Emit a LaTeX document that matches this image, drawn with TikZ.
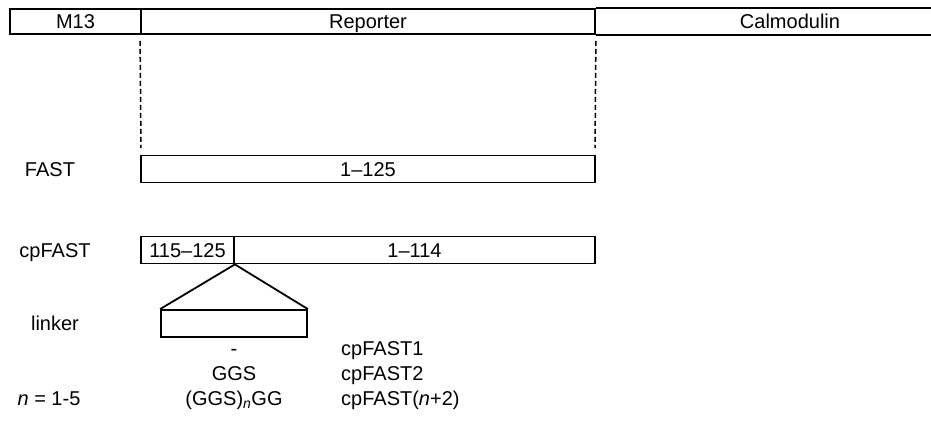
\documentclass[tikz,border=0pt]{standalone}
\usepackage{fontspec}
\setmainfont{Liberation Sans}
\usetikzlibrary{positioning}
\tikzset{
  seg/.style={draw, line width=1.8pt, minimum height=27pt},
  guide/.style={line width=1.5pt, dash pattern=on 5pt off 3pt},
}
\begin{document}
\begin{tikzpicture}[x=1pt,y=-1pt,
    every node/.style={font=\fontsize{20}{23}\selectfont, inner sep=0pt,
      text height=14.3pt, text depth=0pt}]
  \useasboundingbox (0,0) rectangle (931,421);
  % domain bar
  \node[seg, minimum width=131pt, minimum height=25pt] (m13) at (75.5,21.5) {M13};
  \node[seg, minimum width=454pt, minimum height=25pt] (rep) at (368,21.5) {Reporter};
  \node (cal) at (790,21.5) {Calmodulin};
  \coordinate (calE) at (931,21.5);
  \draw[line width=1.8pt] (rep.north east) -- (rep.north east -| calE)
    (rep.south east) -- (rep.south east -| calE);
  \coordinate (dashA) at (141,148);
  \coordinate (dashB) at (595,148);
  \draw[guide] ([yshift=-6pt]rep.south west) -- (dashA);
  \draw[guide] ([yshift=-6pt]rep.south east) -- (dashB);
  % FAST
  \node (lfast) at (50,169) {FAST};
  \node[seg, minimum width=454pt] (fast) at (368,169) {1–125};
  % cpFAST
  \node (lcp) at (55,250) {cpFAST};
  \node[seg, minimum width=93pt] (cpA) at (187.5,250) {115–125};
  \node[seg, minimum width=361pt] (cpB) at (414.5,250) {1–114};
  % linker
  \node (llink) at (55,323) {linker};
  \node[seg, minimum width=146pt] (link) at (234,323.5) {};
  \draw[line width=1.8pt] (link.north west) -- (cpA.south east) -- (link.north east);
  % linker variants
  \node (v0) at (234,348) {-};
  \node (v1) at (234,373) {GGS};
  \node (v2) at (234,398) {(GGS)\textsubscript{\textit{n}}GG};
  \node (ln) at (49,398) {\textit{n} = 1-5};
  \node[anchor=west] (c1) at (341,348) {cpFAST1};
  \node[anchor=west] (c2) at (341,373) {cpFAST2};
  \node[anchor=west] (c3) at (341,398) {cpFAST(\textit{n}+2)};
\end{tikzpicture}
\end{document}
